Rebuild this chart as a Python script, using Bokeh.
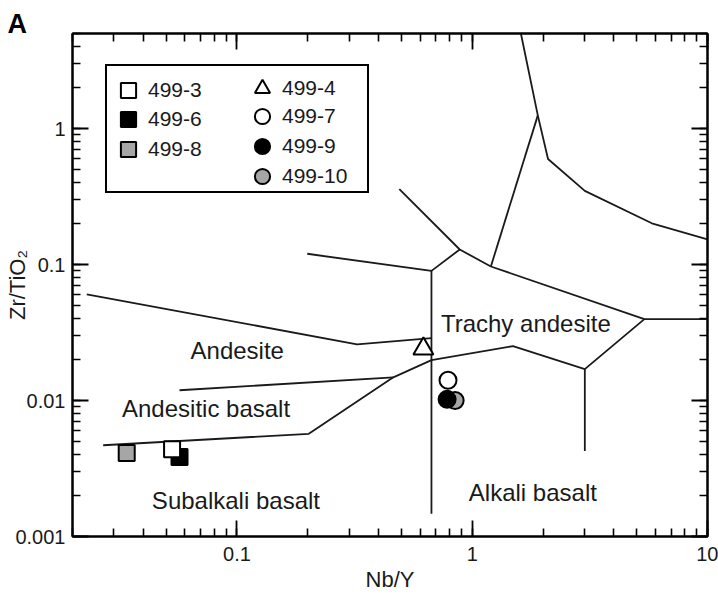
from bokeh.plotting import figure
from bokeh.models import (LogAxis, LogTicker, CustomJSTickFormatter, Legend, LegendItem,
                          ColumnDataSource, Range1d)
from bokeh.core.properties import value
from bokeh.embed import file_html
from bokeh.resources import INLINE

# ---------------- data ----------------
x_limits = (0.02, 10)
y_limits = (0.001, 5)

samples = ["499-3", "499-6", "499-8", "499-4", "499-7", "499-9", "499-10"]
nb_y = [0.0530, 0.0570, 0.0340, 0.620, 0.789, 0.782, 0.846]
zr_tio2 = [0.00438, 0.00384, 0.00412, 0.0240, 0.0141, 0.0102, 0.0100]

# field boundaries (Nb/Y, Zr/TiO2)
b1_x = [1.61, 1.90, 2.10, 3.01, 5.80, 10.0]
b1_y = [5.0, 1.25, 0.597, 0.348, 0.201, 0.153]
b2_x = [1.90, 1.20]
b2_y = [1.25, 0.0967]
b3_x = [0.490, 0.885, 1.20]
b3_y = [0.359, 0.129, 0.0967]
b4_x = [0.199, 0.671, 0.885]
b4_y = [0.120, 0.0898, 0.129]
b5_x = [0.671, 0.671]
b5_y = [0.0898, 0.00147]
b6_x = [0.0230, 0.324, 0.671]
b6_y = [0.0604, 0.0259, 0.0288]
b7_x = [0.0570, 0.462]
b7_y = [0.0119, 0.0148]
b8_x = [0.0270, 0.202, 0.462, 0.671, 1.49, 3.01, 5.39, 10.0]
b8_y = [0.00469, 0.00569, 0.0148, 0.0198, 0.0251, 0.0170, 0.0397, 0.0397]
b9_x = [1.20, 5.39]
b9_y = [0.0967, 0.0397]
b10_x = [3.01, 3.01]
b10_y = [0.0170, 0.00425]

boundaries_x = [b1_x, b2_x, b3_x, b4_x, b5_x, b6_x, b7_x, b8_x, b9_x, b10_x]
boundaries_y = [b1_y, b2_y, b3_y, b4_y, b5_y, b6_y, b7_y, b8_y, b9_y, b10_y]

region_names = ["Andesite", "Andesitic basalt", "Subalkali basalt", "Trachy andesite", "Alkali basalt"]
region_x = [0.1003, 0.0739, 0.099, 1.69, 1.81]
region_y = [0.0232, 0.00873, 0.00184, 0.0369, 0.00212]

# ---------------- styles ----------------
FONT = "Liberation Sans"
INK = "#1a1a1a"
marker_type = {"499-3": "square", "499-6": "square", "499-8": "square", "499-4": "triangle",
               "499-7": "circle", "499-9": "circle", "499-10": "circle"}
marker_fill = {"499-3": "white", "499-6": "black", "499-8": "#a6a6a6", "499-4": "white",
               "499-7": "white", "499-9": "black", "499-10": "#a6a6a6"}
marker_size = {"499-3": 16, "499-6": 16, "499-8": 16, "499-4": 20,
               "499-7": 17, "499-9": 17, "499-10": 17}
draw_order = ["499-8", "499-6", "499-3", "499-4", "499-7", "499-10", "499-9"]
# legend slots (screen offsets from the frame's bottom-left corner)
legend_slot = {"499-3": (37, 427), "499-6": (37, 398), "499-8": (37, 368),
               "499-4": (171, 429), "499-7": (171, 401), "499-9": (171, 371), "499-10": (171, 341)}

p = figure(width=718, height=597, x_axis_type="log", y_axis_type="log",
           x_range=Range1d(*x_limits), y_range=Range1d(*y_limits),
           output_backend="svg", toolbar_location=None,
           min_border_left=72, min_border_right=11, min_border_top=33, min_border_bottom=61)
p.grid.visible = False
p.outline_line_color = "black"
p.outline_line_width = 2
p.background_fill_color = "white"
p.border_fill_color = "white"

fmt_code = "return parseFloat(tick.toPrecision(6)).toString();"


def style_axis(ax, labels=True):
    ax.major_tick_in = 16
    ax.major_tick_out = 0
    ax.minor_tick_in = 8
    ax.minor_tick_out = 0
    ax.axis_line_width = 2
    ax.axis_line_color = "black"
    ax.major_tick_line_width = 1.8
    ax.minor_tick_line_width = 1.6
    ax.major_tick_line_color = "black"
    ax.minor_tick_line_color = "black"
    if labels:
        ax.formatter = CustomJSTickFormatter(code=fmt_code)
        ax.major_label_text_font = FONT
        ax.major_label_text_font_size = "20px"
        ax.major_label_text_color = INK
        ax.axis_label_text_font = FONT
        ax.axis_label_text_font_style = "normal"
        ax.axis_label_text_color = INK
    else:
        ax.formatter = CustomJSTickFormatter(code="return '';")
        ax.major_label_text_font_size = "1px"
        ax.major_label_standoff = 0


p.xaxis[0].ticker = LogTicker(mantissas=[1], num_minor_ticks=10)
p.yaxis[0].ticker = LogTicker(mantissas=[1], num_minor_ticks=10)
style_axis(p.xaxis[0])
style_axis(p.yaxis[0])
p.xaxis[0].major_label_standoff = 10
p.yaxis[0].major_label_standoff = 7
p.xaxis[0].axis_label = "Nb/Y"
p.xaxis[0].axis_label_standoff = 3
p.xaxis[0].axis_label_text_font_size = "22px"
p.yaxis[0].axis_label = "Zr/TiO₂"
p.yaxis[0].axis_label_standoff = -18
p.yaxis[0].axis_label_text_font_size = "22px"

top_ax = LogAxis(ticker=LogTicker(mantissas=[1], num_minor_ticks=10))
right_ax = LogAxis(ticker=LogTicker(mantissas=[1], num_minor_ticks=10))
style_axis(top_ax, labels=False)
style_axis(right_ax, labels=False)
p.add_layout(top_ax, "above")
p.add_layout(right_ax, "right")

# panel letter
p.title.text = "A"
p.title.align = "left"
p.title.offset = -65
p.title.standoff = -10
p.title.text_font = FONT
p.title.text_font_size = "27px"
p.title.text_font_style = "bold"
p.title.text_color = "black"

# boundaries
for bx, by in zip(boundaries_x, boundaries_y):
    p.line(bx, by, line_color=INK, line_width=1.8)

# region names
p.text(x=region_x, y=region_y, text=region_names, text_font=value(FONT),
       text_font_size="24px", text_align="center", text_baseline="middle", text_color=INK)

# samples
renderers = {}
for s in draw_order:
    i = samples.index(s)
    src = ColumnDataSource(dict(x=[nb_y[i]], y=[zr_tio2[i]]))
    renderers[s] = p.scatter("x", "y", source=src, marker=marker_type[s], size=marker_size[s],
                             fill_color=marker_fill[s], line_color="black", line_width=2)

blank = p.scatter(x=[], y=[], marker="square", size=1, fill_alpha=0, line_alpha=0)

# legend frame
box = Legend(items=[LegendItem(label=" ", renderers=[blank])], location=(33, 343),
             padding=0, spacing=0, glyph_width=2, glyph_height=125, label_standoff=0,
             label_width=258, label_height=125, margin=0,
             border_line_color="black", border_line_width=2, border_line_alpha=1,
             background_fill_color="white", background_fill_alpha=1)
p.add_layout(box)

# legend entries
for s in samples:
    leg = Legend(items=[LegendItem(label=s, renderers=[renderers[s]])], location=legend_slot[s],
                 padding=0, spacing=0, glyph_width=38, glyph_height=38, label_standoff=1,
                 label_height=38, label_width=20, margin=0,
                 label_text_font=FONT, label_text_font_size="21px", label_text_color=INK,
                 border_line_color=None, background_fill_alpha=0)
    p.add_layout(leg)

open("out.html", "w").write(file_html(p, INLINE))
